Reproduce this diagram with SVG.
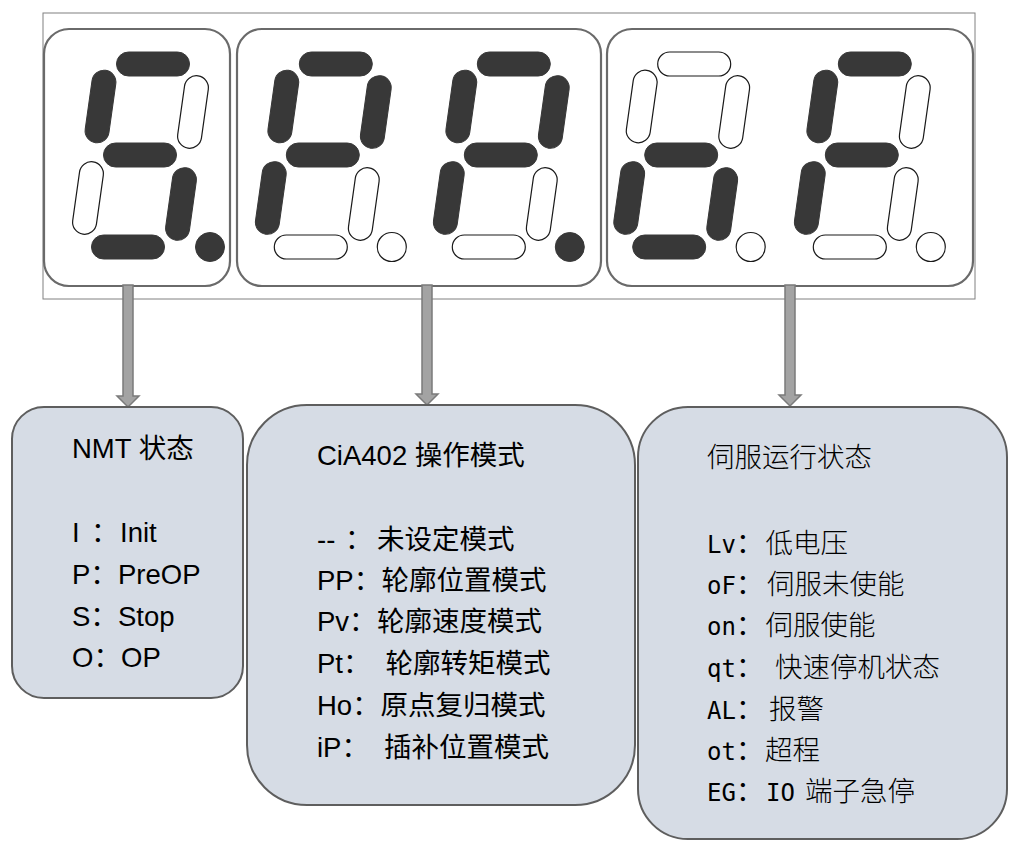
<svg xmlns="http://www.w3.org/2000/svg" width="1009" height="841" viewBox="0 0 1009 841">
<style>
.frame{fill:#fff;stroke:#808080;stroke-width:1}
.panel{fill:#fff;stroke:#6a6a6a;stroke-width:2.2}
.on{fill:#383838;stroke:#383838;stroke-width:1}
.off{fill:#fff;stroke:#1a1a1a;stroke-width:1.2}
.arrow{fill:#a3a3a3;stroke:#7b7b7b;stroke-width:1.5}
.box{fill:#d6dce5;stroke:#5e5e5e;stroke-width:2}
.t{font-family:"Liberation Sans","Noto Sans CJK SC",sans-serif;font-size:27.5px;fill:#000}
.cj{font-family:"Noto Sans CJK SC",sans-serif}
.cl{font-family:"Noto Sans CJK SC",sans-serif;font-weight:300}
.m{font-family:"DejaVu Sans Mono",monospace;font-size:24px}
</style>
<defs>
<rect id="h" x="-36.5" y="-12" width="73" height="24" rx="12"/>
<rect id="v" x="-12" y="-36.5" width="24" height="73" rx="12" transform="rotate(8)"/>
<circle id="dp" r="14.5"/>
</defs>

<g id="display">
<rect class="frame" x="43" y="13" width="932" height="286"/>
</g>

<g id="panel-nmt">
<rect class="panel" x="44" y="29" width="186" height="257" rx="25"/>
<g transform="translate(140,155)">
<use href="#h" class="on" x="13" y="-91"/>
<use href="#v" class="off" x="53" y="-43"/>
<use href="#v" class="on" x="41" y="49"/>
<use href="#h" class="on" x="-12" y="92"/>
<use href="#v" class="off" x="-52" y="43"/>
<use href="#v" class="on" x="-39.5" y="-48.5"/>
<use href="#h" class="on" x="0" y="0"/>
<use href="#dp" class="on" x="70" y="92"/>
</g>
</g>

<g id="panel-mode">
<rect class="panel" x="237" y="29" width="364" height="257" rx="25"/>
<g transform="translate(322.8,155)">
<use href="#h" class="on" x="13" y="-91"/>
<use href="#v" class="on" x="53" y="-43"/>
<use href="#v" class="off" x="41" y="49"/>
<use href="#h" class="off" x="-12" y="92"/>
<use href="#v" class="on" x="-52" y="43"/>
<use href="#v" class="on" x="-39.5" y="-48.5"/>
<use href="#h" class="on" x="0" y="0"/>
<use href="#dp" class="off" x="69" y="92"/>
</g>
<g transform="translate(500.8,155)">
<use href="#h" class="on" x="13" y="-91"/>
<use href="#v" class="on" x="53" y="-43"/>
<use href="#v" class="off" x="41" y="49"/>
<use href="#h" class="off" x="-12" y="92"/>
<use href="#v" class="on" x="-52" y="43"/>
<use href="#v" class="on" x="-39.5" y="-48.5"/>
<use href="#h" class="on" x="0" y="0"/>
<use href="#dp" class="on" x="69" y="92"/>
</g>
</g>

<g id="panel-servo">
<rect class="panel" x="607" y="29" width="366" height="257" rx="25"/>
<g transform="translate(681.2,155)">
<use href="#h" class="off" x="13" y="-91"/>
<use href="#v" class="off" x="53" y="-43"/>
<use href="#v" class="on" x="41" y="49"/>
<use href="#h" class="on" x="-12" y="92"/>
<use href="#v" class="on" x="-52" y="43"/>
<use href="#v" class="off" x="-39.5" y="-48.5"/>
<use href="#h" class="on" x="0" y="0"/>
<use href="#dp" class="off" x="69.5" y="92"/>
</g>
<g transform="translate(861.8,155)">
<use href="#h" class="on" x="13" y="-91"/>
<use href="#v" class="off" x="53" y="-43"/>
<use href="#v" class="off" x="41" y="49"/>
<use href="#h" class="off" x="-12" y="92"/>
<use href="#v" class="on" x="-52" y="43"/>
<use href="#v" class="on" x="-39.5" y="-48.5"/>
<use href="#h" class="on" x="0" y="0"/>
<use href="#dp" class="off" x="69" y="92"/>
</g>
</g>

<g id="connectors">
<polygon class="arrow" points="123,285 133,285 133,396 139,396 128,407 117,396 123,396"/>
<polygon class="arrow" points="422,285 432,285 432,394 438,394 427,405 416,394 422,394"/>
<polygon class="arrow" points="785,285 795,285 795,395 801,395 790,406 779,395 785,395"/>
</g>

<g id="box-nmt">
<rect class="box" x="12" y="407" width="231" height="291" rx="32"/>
<text class="t" x="72" y="458">NMT 状态</text>
<text class="t" x="72" y="542">I<tspan x="91">：</tspan><tspan x="120">Init</tspan></text>
<text class="t" x="72" y="584">P：<tspan x="118">PreOP</tspan></text>
<text class="t" x="72" y="626">S：<tspan x="118">Stop</tspan></text>
<text class="t" x="72" y="667">O：<tspan x="121">OP</tspan></text>
</g>

<g id="box-mode">
<rect class="box" x="247" y="405" width="388" height="400" rx="60"/>
<text class="t" x="317" y="465">CiA402 操作模式</text>
<text class="t" x="317" y="549">--<tspan x="345">：</tspan><tspan x="377">未设定模式</tspan></text>
<text class="t" x="317" y="590">PP：<tspan x="381.5">轮廓位置模式</tspan></text>
<text class="t" x="317" y="631">Pv：<tspan x="377">轮廓速度模式</tspan></text>
<text class="t" x="317" y="673">Pt：<tspan x="385.5">轮廓转矩模式</tspan></text>
<text class="t" x="317" y="715">Ho：<tspan x="380.5">原点复归模式</tspan></text>
<text class="t" x="317" y="757">iP：<tspan x="384">插补位置模式</tspan></text>
</g>

<g id="box-servo">
<rect class="box" x="638" y="407" width="369" height="432" rx="50"/>
<text class="t cl" x="707" y="467">伺服运行状态</text>
<text class="t" x="707" y="553"><tspan class="m">Lv</tspan><tspan class="cj">：</tspan><tspan class="cl" x="765.5">低电压</tspan></text>
<text class="t" x="707" y="594"><tspan class="m">oF</tspan><tspan class="cj">：</tspan><tspan class="cl" x="767">伺服未使能</tspan></text>
<text class="t" x="707" y="635"><tspan class="m">on</tspan><tspan class="cj">：</tspan><tspan class="cl" x="765.5">伺服使能</tspan></text>
<text class="t" x="707" y="677"><tspan class="m">qt</tspan><tspan class="cj">：</tspan><tspan class="cl" x="775">快速停机状态</tspan></text>
<text class="t" x="707" y="719"><tspan class="m">AL</tspan><tspan class="cj">：</tspan><tspan class="cl" x="769">报警</tspan></text>
<text class="t" x="707" y="760"><tspan class="m">ot</tspan><tspan class="cj">：</tspan><tspan class="cl" x="765">超程</tspan></text>
<text class="t" x="707" y="801"><tspan class="m">EG</tspan><tspan class="cj">：</tspan><tspan class="m" x="766">IO</tspan><tspan class="cl" x="805">端子急停</tspan></text>
</g>
</svg>
